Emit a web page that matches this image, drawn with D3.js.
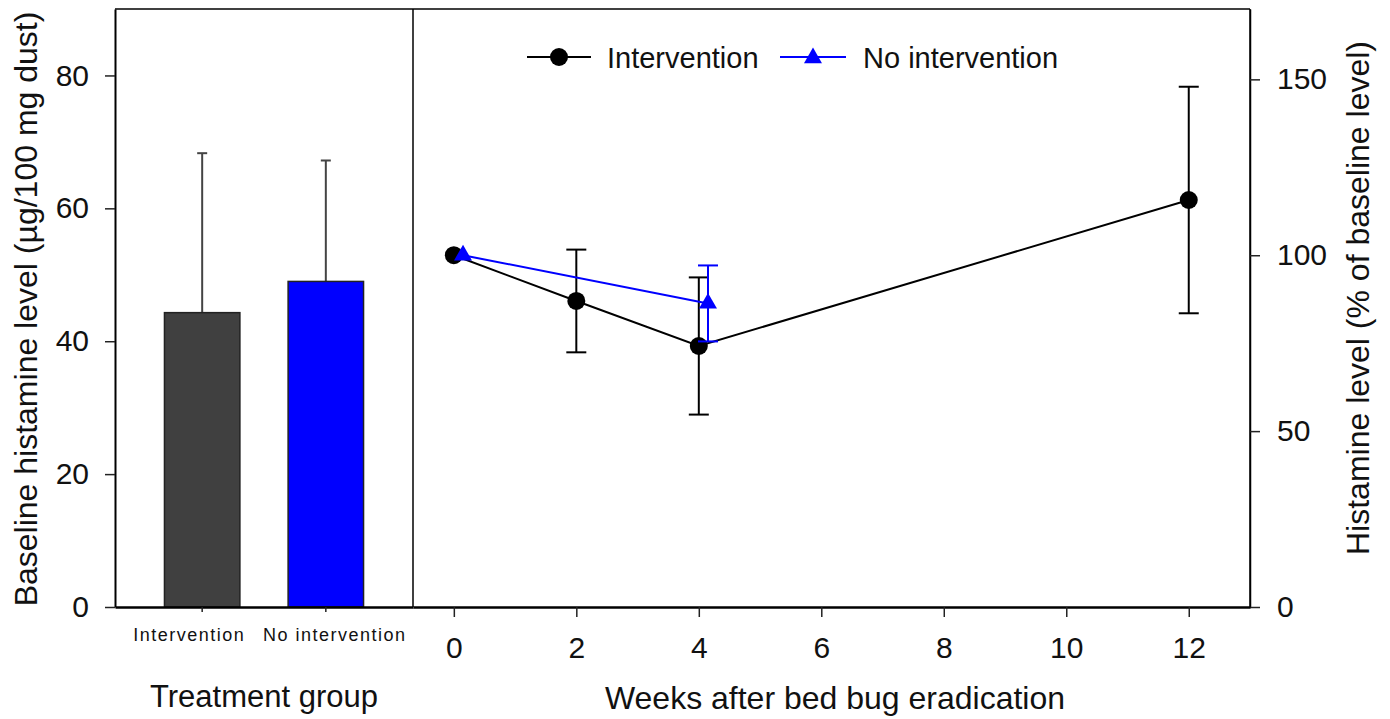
<!DOCTYPE html>
<html>
<head>
<meta charset="utf-8">
<script src="https://cdn.jsdelivr.net/npm/d3@7"></script>
<style>
  body { margin: 0; background: #fff; }
  svg text { font-family: "Liberation Sans", Arial, sans-serif; fill: #111; }
</style>
</head>
<body>
<div id="drawingfield"></div>
<script>
// left panel: baseline bars
var groups = ["Intervention", "No intervention"];
var baselineMean = [44.3, 49.0];
var baselineErr = [24.0, 18.2];
var barColors = ["#404040", "#0000ff"];

// right panel: % of baseline over time
var weeks = [0, 2, 4, 12];
var intMean = [100, 87.0, 74.2, 115.7];
var intErr = [0, 14.6, 19.5, 32.2];
var noIntWeeks = [0, 4];
var noIntMean = [100, 86.3];
var noIntErr = [0, 10.8];

var leftTicks = [0, 20, 40, 60, 80];
var rightTicks = [0, 50, 100, 150];
var weekTicks = [0, 2, 4, 6, 8, 10, 12];

(function () {
var width = 1390, height = 719;
var plotTop = 9, plotBottom = 607;
var x0 = 115, xMid = 413, x1 = 1250;

var svg = d3.select("#drawingfield")
  .append("svg")
  .attr("width", width)
  .attr("height", height);

// scales
var yL = d3.scaleLinear().domain([0, 90]).range([plotBottom, plotTop]);
var xBand = d3.scaleBand().domain(groups).range([x0, xMid]).paddingInner(0.39).paddingOuter(0.4);
var xR = d3.scaleLinear().domain([-2 / 3, 13]).range([xMid, x1]);
var yR = d3.scaleLinear().domain([0, 170]).range([plotBottom, plotTop]);

// bars + error bars (upper only)
var bars = svg.append("g");
groups.forEach(function (g, i) {
  var cx = xBand(g) + xBand.bandwidth() / 2;
  bars.append("line")
    .attr("x1", cx).attr("x2", cx)
    .attr("y1", yL(baselineMean[i])).attr("y2", yL(baselineMean[i] + baselineErr[i]))
    .attr("stroke", "#444").attr("stroke-width", 2);
  bars.append("line")
    .attr("x1", cx - 5).attr("x2", cx + 5)
    .attr("y1", yL(baselineMean[i] + baselineErr[i])).attr("y2", yL(baselineMean[i] + baselineErr[i]))
    .attr("stroke", "#444").attr("stroke-width", 2);
  bars.append("rect")
    .attr("x", xBand(g))
    .attr("width", xBand.bandwidth())
    .attr("y", yL(baselineMean[i]))
    .attr("height", yL(0) - yL(baselineMean[i]))
    .attr("fill", barColors[i])
    .attr("stroke", "#222")
    .attr("stroke-width", 1.5);
});

// series drawing helper
function drawSeries(xs, means, errs, color, offset, marker) {
  var g = svg.append("g");
  var line = d3.line()
    .x(function (d) { return xR(d[0] + offset); })
    .y(function (d) { return yR(d[1]); });
  var pts = xs.map(function (w, i) { return [w, means[i], errs[i]]; });
  g.append("path")
    .attr("d", line(pts))
    .attr("fill", "none")
    .attr("stroke", color)
    .attr("stroke-width", 2);
  pts.forEach(function (p) {
    if (p[2] <= 0) return;
    var cx = xR(p[0] + offset);
    g.append("line")
      .attr("x1", cx).attr("x2", cx)
      .attr("y1", yR(p[1] - p[2])).attr("y2", yR(p[1] + p[2]))
      .attr("stroke", color).attr("stroke-width", 2);
    [p[1] - p[2], p[1] + p[2]].forEach(function (v) {
      g.append("line")
        .attr("x1", cx - 10).attr("x2", cx + 10)
        .attr("y1", yR(v)).attr("y2", yR(v))
        .attr("stroke", color).attr("stroke-width", 2);
    });
  });
  pts.forEach(function (p) {
    marker(g, xR(p[0] + offset), yR(p[1]));
  });
}

function circleMark(g, x, y) {
  g.append("circle").attr("cx", x).attr("cy", y).attr("r", 9).attr("fill", "#000");
}
function triMark(g, x, y) {
  g.append("path")
    .attr("d", d3.symbol().type(d3.symbolTriangle).size(140)())
    .attr("transform", "translate(" + x + "," + y + ")")
    .attr("fill", "#0000ff");
}

drawSeries(weeks, intMean, intErr, "#000", 0, circleMark);
drawSeries(noIntWeeks, noIntMean, noIntErr, "#0000ff", 0.15, triMark);

// frame
var frame = svg.append("g").attr("fill", "none").attr("stroke", "#000").attr("stroke-width", 1.5);
frame.append("line").attr("x1", x0).attr("x2", x1).attr("y1", plotTop).attr("y2", plotTop);
frame.append("line").attr("x1", xMid).attr("x2", xMid).attr("y1", plotTop).attr("y2", plotBottom);
frame.append("line").attr("x1", x1).attr("x2", x1).attr("y1", plotTop).attr("y2", plotBottom);

// axes
var axL = svg.append("g").attr("transform", "translate(" + x0 + ",0)")
  .call(d3.axisLeft(yL).tickValues(leftTicks).tickSize(10).tickSizeOuter(0).tickPadding(16));
var axR = svg.append("g").attr("transform", "translate(" + x1 + ",0)")
  .call(d3.axisRight(yR).tickValues(rightTicks).tickSize(10).tickSizeOuter(0).tickPadding(17));
var axBL = svg.append("g").attr("transform", "translate(0," + plotBottom + ")")
  .call(d3.axisBottom(xBand).tickSize(5).tickSizeOuter(0).tickPadding(16));
var axBR = svg.append("g").attr("transform", "translate(0," + plotBottom + ")")
  .call(d3.axisBottom(xR).tickValues(weekTicks).tickSize(10).tickSizeOuter(0).tickPadding(20));

[axL, axR, axBR].forEach(function (a) {
  a.selectAll("text").style("font-size", "30px").attr("fill", "#111");
});
// group labels sit a bit apart from their ticks in the original
axBL.selectAll("text").style("font-size", "18px").style("letter-spacing", "1.5px").attr("fill", "#111")
  .attr("dx", function (d, i) { return i === 0 ? -13 : 9; });
[axL, axR, axBL, axBR].forEach(function (a) {
  a.selectAll(".tick line").attr("stroke", "#222").attr("stroke-width", 1.5);
  a.select(".domain").attr("stroke", "#000").attr("stroke-width", 1.5);
});
axL.select(".domain").attr("stroke-width", 2);
axBL.select(".domain").attr("stroke-width", 2.5);
axBR.select(".domain").attr("stroke-width", 2.5);

// titles
svg.append("text").attr("x", 264).attr("y", 707).attr("text-anchor", "middle")
  .style("font-size", "31px").text("Treatment group");
svg.append("text").attr("x", 835).attr("y", 709).attr("text-anchor", "middle")
  .style("font-size", "32px").text("Weeks after bed bug eradication");
svg.append("text").attr("transform", "translate(37,309) rotate(-90)").attr("text-anchor", "middle")
  .style("font-size", "32px").text("Baseline histamine level (µg/100 mg dust)");
svg.append("text").attr("transform", "translate(1369,298) rotate(-90)").attr("text-anchor", "middle")
  .style("font-size", "32px").text("Histamine level (% of baseline level)");

// legend
var legend = svg.append("g");
legend.append("line").attr("x1", 527).attr("x2", 591).attr("y1", 57).attr("y2", 57)
  .attr("stroke", "#000").attr("stroke-width", 2);
circleMark(legend, 559, 57);
legend.append("text").attr("x", 607).attr("y", 68).style("font-size", "29px").text("Intervention");
legend.append("line").attr("x1", 780).attr("x2", 846).attr("y1", 57).attr("y2", 57)
  .attr("stroke", "#0000ff").attr("stroke-width", 2);
triMark(legend, 813, 58);
legend.append("text").attr("x", 863).attr("y", 68).style("font-size", "29px").text("No intervention");
})();
</script>
</body>
</html>
